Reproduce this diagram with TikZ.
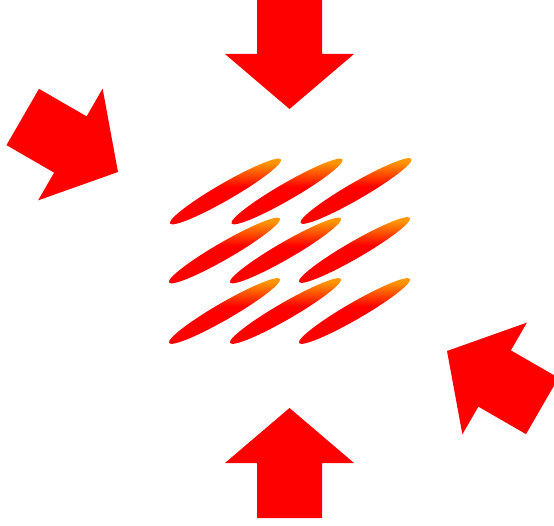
\documentclass[tikz,border=0pt]{standalone}
\definecolor{grainorange}{RGB}{255,150,0}
\pgfdeclareverticalshading{grainshade}{100bp}{color(0bp)=(red); color(52bp)=(red); color(63bp)=(grainorange); color(100bp)=(grainorange)}
\begin{document}
\begin{tikzpicture}[x=1pt,y=1pt,
  bigarrow/.style={fill=red, draw=none},
  grain/.style={shading=grainshade, draw=none}]
\useasboundingbox (0,0) rectangle (554,525);
\newcommand\arrowshape{(0,0) -- (-55,64.5) -- (-55,32.5) -- (-110,32.5) -- (-110,-32.5) -- (-55,-32.5) -- (-55,-64.5) -- cycle}
\coordinate (topTip) at (289.5,416);
\coordinate (botTip) at (289.5,117);
\coordinate (leftTip) at (118,353);
\coordinate (rightTip) at (447,174);
\fill[bigarrow, shift={(topTip)}, rotate=-90] \arrowshape;
\fill[bigarrow, shift={(botTip)}, rotate=90] \arrowshape;
\fill[bigarrow, shift={(leftTip)}, rotate=-30] \arrowshape;
\fill[bigarrow, shift={(rightTip)}, rotate=150] \arrowshape;
\foreach \cx/\cy in {225.5/333.5, 287/333.5, 356/334, 224.5/274.5, 285.5/274.5, 354.5/275, 224.5/214, 285.5/214, 354.5/214}{
  \begin{scope}
    \clip[shift={(\cx,\cy)}, rotate=30] (0,0) ellipse (64 and 8.5);
    \shade[grain, shift={(\cx,\cy)}, rotate=12] (-80,-40) rectangle (80,40);
  \end{scope}
}
\end{tikzpicture}
\end{document}
